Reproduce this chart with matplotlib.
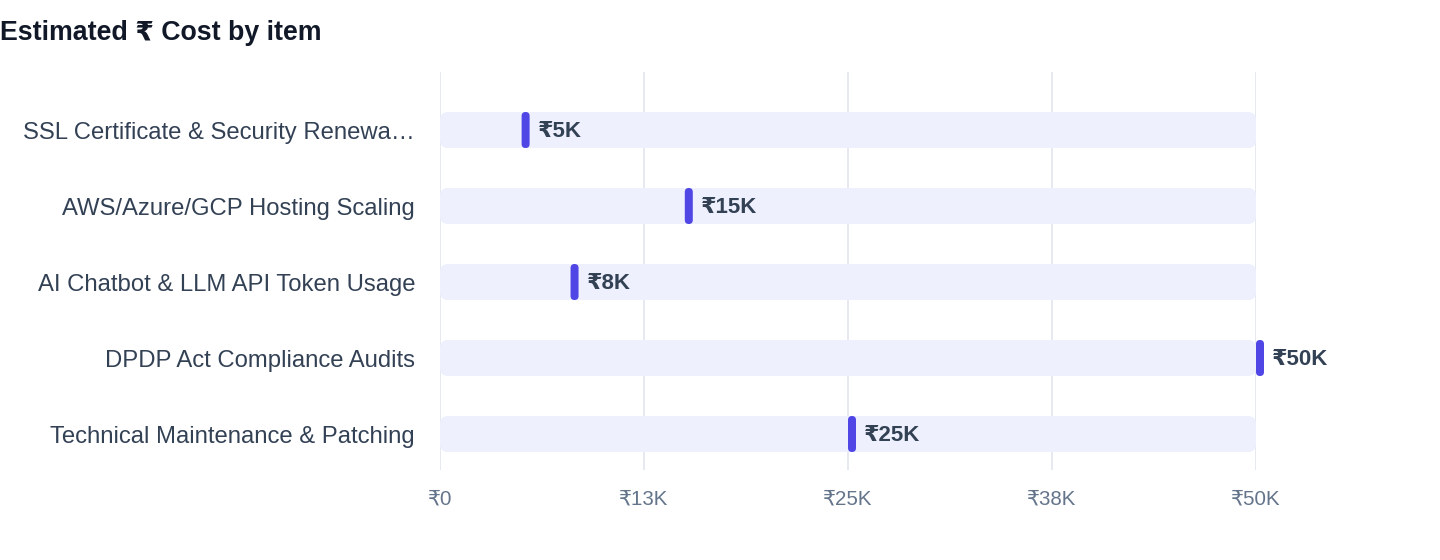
import matplotlib
matplotlib.use("Agg")
import matplotlib.pyplot as plt
from matplotlib.patches import FancyBboxPatch

categories = [
    "SSL Certificate & Security Renewa\u2026",
    "AWS/Azure/GCP Hosting Scaling",
    "AI Chatbot & LLM API Token Usage",
    "DPDP Act Compliance Audits",
    "Technical Maintenance & Patching",
]
values = [5000, 15000, 8000, 50000, 25000]
value_labels = ["\u20b95K", "\u20b915K", "\u20b98K", "\u20b950K", "\u20b925K"]
x_ticks = [0, 12500, 25000, 37500, 50000]
x_tick_labels = ["\u20b90", "\u20b913K", "\u20b925K", "\u20b938K", "\u20b950K"]
x_max = 50000

FONT = ["Liberation Sans", "DejaVu Sans"]
plt.rcParams["font.family"] = FONT

W, H, DPI = 1440, 560, 100
fig = plt.figure(figsize=(W / DPI, H / DPI), dpi=DPI)
left_px, right_px, top_px, bottom_px = 440, 1256, 72, 470
ax = fig.add_axes([left_px / W, 1 - bottom_px / H, (right_px - left_px) / W, (bottom_px - top_px) / H])

row_px = 76.0
y_top = -58 / row_px
y_bot = (len(categories) - 1) + 36 / row_px
ax.set_xlim(0, x_max)
ax.set_ylim(y_bot, y_top)

px_x = x_max / (right_px - left_px)   # data units per pixel (x)
px_y = 1.0 / row_px                   # data units per pixel (y)

track_h = 36 * px_y
for i, v in enumerate(values):
    r = 8 * px_x
    tr = FancyBboxPatch((0, i - track_h / 2), x_max, track_h,
                        boxstyle=f"round,pad=0,rounding_size={r}",
                        mutation_aspect=px_y / px_x,
                        facecolor="#EEF1FD", edgecolor="none", zorder=1)
    ax.add_patch(tr)
    mk_w = 8 * px_x
    mk = FancyBboxPatch((v, i - track_h / 2), mk_w, track_h,
                        boxstyle=f"round,pad=0,rounding_size={4 * px_x}",
                        mutation_aspect=px_y / px_x,
                        facecolor="#4F46E5", edgecolor="none", zorder=3, clip_on=False)
    ax.add_patch(mk)
    ax.annotate(value_labels[i], xy=(v, i), xytext=(16 * 0.72, -1.5 * 0.72), textcoords="offset points",
                ha="left", va="center", fontsize=16, fontweight="bold", color="#334155",
                family=FONT, annotation_clip=False, zorder=4)

for t in x_ticks:
    ax.axvline(t, color="#E2E6EE", lw=1.2, zorder=0)

ax.set_xticks(x_ticks)
ax.set_xticklabels(x_tick_labels)
ax.set_yticks(range(len(categories)))
ax.set_yticklabels(categories)
ax.tick_params(axis="x", length=0, pad=14, labelsize=14.8, labelcolor="#64748B")
ax.tick_params(axis="y", length=0, pad=18, labelsize=17.2, labelcolor="#334155")
for s in ax.spines.values():
    s.set_visible(False)
ax.set_facecolor("none")

fig.text(0, 1 - 33 / H, "Estimated \u20b9 Cost by item", ha="left", va="center",
         fontsize=19.3, fontweight="bold", color="#111827", family=FONT)

fig.savefig("out.png", dpi=DPI, facecolor="white")
